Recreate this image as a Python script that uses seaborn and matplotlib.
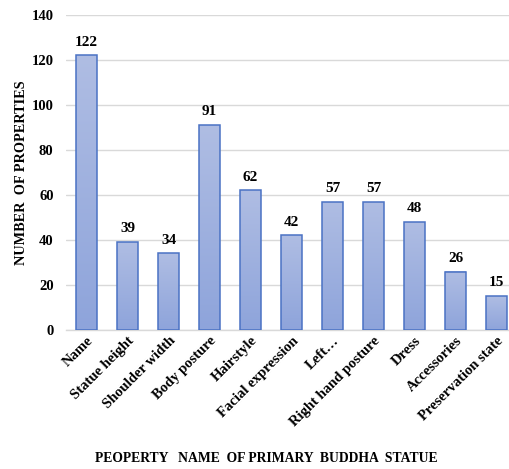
import matplotlib
matplotlib.use("Agg")
import matplotlib.pyplot as plt
import numpy as np
import pandas as pd
import seaborn as sns
from matplotlib.colors import LinearSegmentedColormap

properties = [
    "Name", "Statue height", "Shoulder width", "Body posture", "Hairstyle",
    "Facial expression", "Left\u2026", "Right hand posture", "Dress",
    "Accessories", "Preservation state",
]
counts = [122, 39, 34, 91, 62, 42, 57, 57, 48, 26, 15]
y_ticks = [0, 20, 40, 60, 80, 100, 120, 140]

df = pd.DataFrame({"property": properties, "count": counts})

sns.set_theme(style="white", rc={"text.color": "black", "axes.labelcolor": "black",
                                 "xtick.color": "black", "ytick.color": "black"})
plt.rcParams["font.family"] = ["Liberation Serif", "DejaVu Serif"]
plt.rcParams["font.weight"] = "bold"

W, H = 509, 469
fig = plt.figure(figsize=(W / 100, H / 100), dpi=100)
ax = fig.add_axes([66 / W, 1 - 330 / H, (509 - 66) / W, 315 / H])

sns.barplot(data=df, x="property", y="count", ax=ax, width=0.51,
            color="#A3B3DF", edgecolor="#4A72C4", linewidth=1.1, zorder=3)

# gradient fill: lighter at top, darker toward the base
grad = LinearSegmentedColormap.from_list("bar", ["#8EA4DB", "#AFBDE3"])
gradient = np.linspace(0, 1, 256).reshape(-1, 1)
for patch in ax.patches:
    x0, y0 = patch.get_x(), patch.get_y()
    w, h = patch.get_width(), patch.get_height()
    im = ax.imshow(gradient, cmap=grad, aspect="auto", origin="lower",
                   extent=[x0, x0 + w, y0, y0 + h], zorder=3.5)
    im.set_clip_path(patch)
    patch.set_facecolor("none")
    patch.set_zorder(4)

for i, v in enumerate(counts):
    ax.annotate(str(v), (i, v), xytext=(0, 5), textcoords="offset points",
                ha="center", va="bottom", fontsize=11, fontweight="bold",
                color="black")

ax.set_xlim(-0.5, 10.3)
ax.set_ylim(0, 140)
ax.set_yticks(y_ticks)
ax.yaxis.grid(True, color="#D9D9D9", linewidth=1.0, zorder=0)
ax.set_axisbelow(True)
for side in ["top", "right", "left"]:
    ax.spines[side].set_visible(False)
ax.spines["bottom"].set_color("#D9D9D9")
ax.spines["bottom"].set_linewidth(1.0)

ax.tick_params(axis="y", labelsize=10.5, length=0, pad=9)
ax.tick_params(axis="x", labelsize=10.5, length=0, pad=3)
plt.setp(ax.get_xticklabels(), rotation=45, ha="right", rotation_mode="anchor",
         fontweight="bold")
plt.setp(ax.get_yticklabels(), fontweight="bold")

ax.set_xlabel("")
ax.set_ylabel("NUMBER  OF PROPERTIES", fontsize=10.3, fontweight="bold")
ax.yaxis.set_label_coords(-38 / (509 - 66), 0.5)
fig.text(266 / W, 1 - 458 / H, "PEOPERTY   NAME  OF PRIMARY  BUDDHA  STATUE",
         ha="center", va="center", fontsize=9.8, fontweight="bold")

fig.savefig("out.png", dpi=100)
